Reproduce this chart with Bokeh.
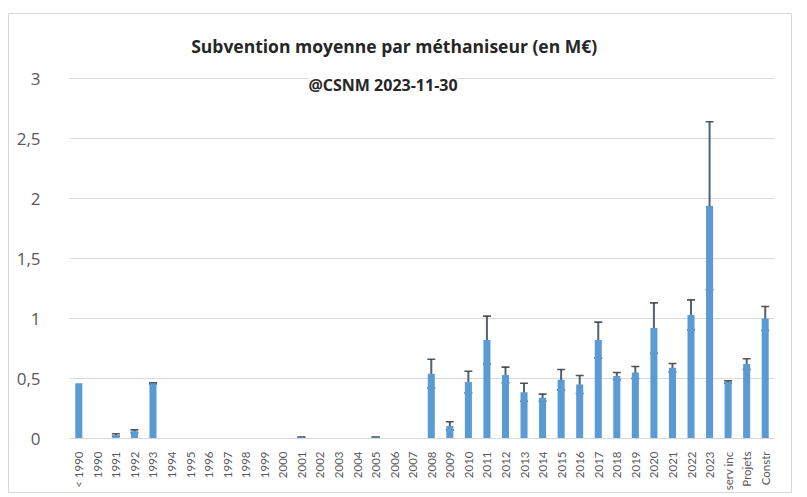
from bokeh.plotting import figure
from bokeh.models import (ColumnDataSource, Whisker, TeeHead, Label, FixedTicker, Range1d)
from bokeh.embed import file_html
from bokeh.resources import INLINE

categories = ["< 1990", "1990", "1991", "1992", "1993", "1994", "1995", "1996", "1997",
              "1998", "1999", "2000", "2001", "2002", "2003", "2004", "2005", "2006",
              "2007", "2008", "2009", "2010", "2011", "2012", "2013", "2014", "2015",
              "2016", "2017", "2018", "2019", "2020", "2021", "2022", "2023",
              "serv inc", "Projets", "Constr"]
subvention = [0.46, 0.0, 0.03, 0.06, 0.46, 0.0, 0.0, 0.0, 0.0,
              0.0, 0.0, 0.0, 0.01, 0.0, 0.0, 0.0, 0.01, 0.0,
              0.0, 0.54, 0.105, 0.47, 0.82, 0.53, 0.385, 0.34, 0.49,
              0.45, 0.82, 0.52, 0.55, 0.92, 0.59, 1.03, 1.94,
              0.47, 0.62, 1.0]
erreur = [0.0, 0.0, 0.01, 0.012, 0.005, 0.0, 0.0, 0.0, 0.0,
          0.0, 0.0, 0.0, 0.003, 0.0, 0.0, 0.0, 0.003, 0.0,
          0.0, 0.12, 0.035, 0.09, 0.2, 0.065, 0.075, 0.03, 0.085,
          0.075, 0.15, 0.03, 0.05, 0.21, 0.035, 0.125, 0.70,
          0.01, 0.045, 0.1]
y_ticks = [0, 0.5, 1, 1.5, 2, 2.5, 3]
y_tick_labels = ["0", "0,5", "1", "1,5", "2", "2,5", "3"]
title_text = "Subvention moyenne par méthaniseur (en M€)"
subtitle_text = "@CSNM 2023-11-30"

xs = list(range(len(categories)))
src = ColumnDataSource(dict(x=xs, top=subvention))
err_x = [x for x, e in zip(xs, erreur) if e > 0]
err_lo = [v - e for v, e in zip(subvention, erreur) if e > 0]
err_hi = [v + e for v, e in zip(subvention, erreur) if e > 0]
esrc = ColumnDataSource(dict(x=err_x, lower=err_lo, upper=err_hi))

p = figure(width=784, height=480, output_backend="svg", toolbar_location=None,
           x_range=Range1d(-0.5, len(categories) - 0.5), y_range=Range1d(0, 3.45),
           min_border_left=60, min_border_right=19, min_border_top=10, min_border_bottom=56)
p.margin = (13, 0, 0, 8)
p.styles = {"border": "1px solid #d9d9d9"}
p.outline_line_color = None
p.background_fill_color = "white"
p.border_fill_color = "white"

p.vbar(x="x", top="top", bottom=0, width=0.38, source=src, fill_color="#5b9bd5", line_color=None)

w = Whisker(base="x", lower="lower", upper="upper", source=esrc, dimension="height",
            line_color="#33475b", line_width=2, line_alpha=0.85,
            upper_head=TeeHead(size=8, line_color="#3a3a3a", line_width=1.6, line_alpha=0.85),
            lower_head=TeeHead(size=8, line_color="#3a3a3a", line_width=1.6, line_alpha=0.85))
p.add_layout(w)

p.xgrid.grid_line_color = None
p.ygrid.grid_line_color = "#d9d9d9"
p.ygrid.grid_line_width = 1
p.ygrid.ticker = FixedTicker(ticks=y_ticks)

p.yaxis.ticker = FixedTicker(ticks=y_ticks)
p.yaxis.major_label_overrides = {t: l for t, l in zip(y_ticks, y_tick_labels)}
p.yaxis.axis_line_color = None
p.yaxis.major_tick_line_color = None
p.yaxis.minor_tick_line_color = None
p.yaxis.major_label_text_font = "Open Sans"
p.yaxis.major_label_text_font_size = "17px"
p.yaxis.major_label_text_color = "#595959"
p.yaxis.major_label_standoff = 23

p.xaxis.ticker = FixedTicker(ticks=xs)
p.xaxis.major_label_overrides = {x: c for x, c in zip(xs, categories)}
p.xaxis.major_label_orientation = 1.5708
p.xaxis.axis_line_color = "#d9d9d9"
p.xaxis.major_tick_line_color = None
p.xaxis.minor_tick_line_color = None
p.xaxis.major_label_text_font = "Lato"
p.xaxis.major_label_text_font_size = "11.5px"
p.xaxis.major_label_text_color = "#595959"
p.xaxis.major_label_standoff = 7

p.add_layout(Label(x=17.0, y=3.27, text=title_text, text_font="Open Sans", text_font_style="bold",
                   text_font_size="17.5px", text_color="#262626", text_align="center",
                   text_baseline="middle"))
p.add_layout(Label(x=16.4, y=2.95, text=subtitle_text, text_font="Open Sans", text_font_style="bold",
                   text_font_size="16px", text_color="#262626", text_align="center",
                   text_baseline="middle", background_fill_color="white"))

open("out.html", "w").write(file_html(p, INLINE))
